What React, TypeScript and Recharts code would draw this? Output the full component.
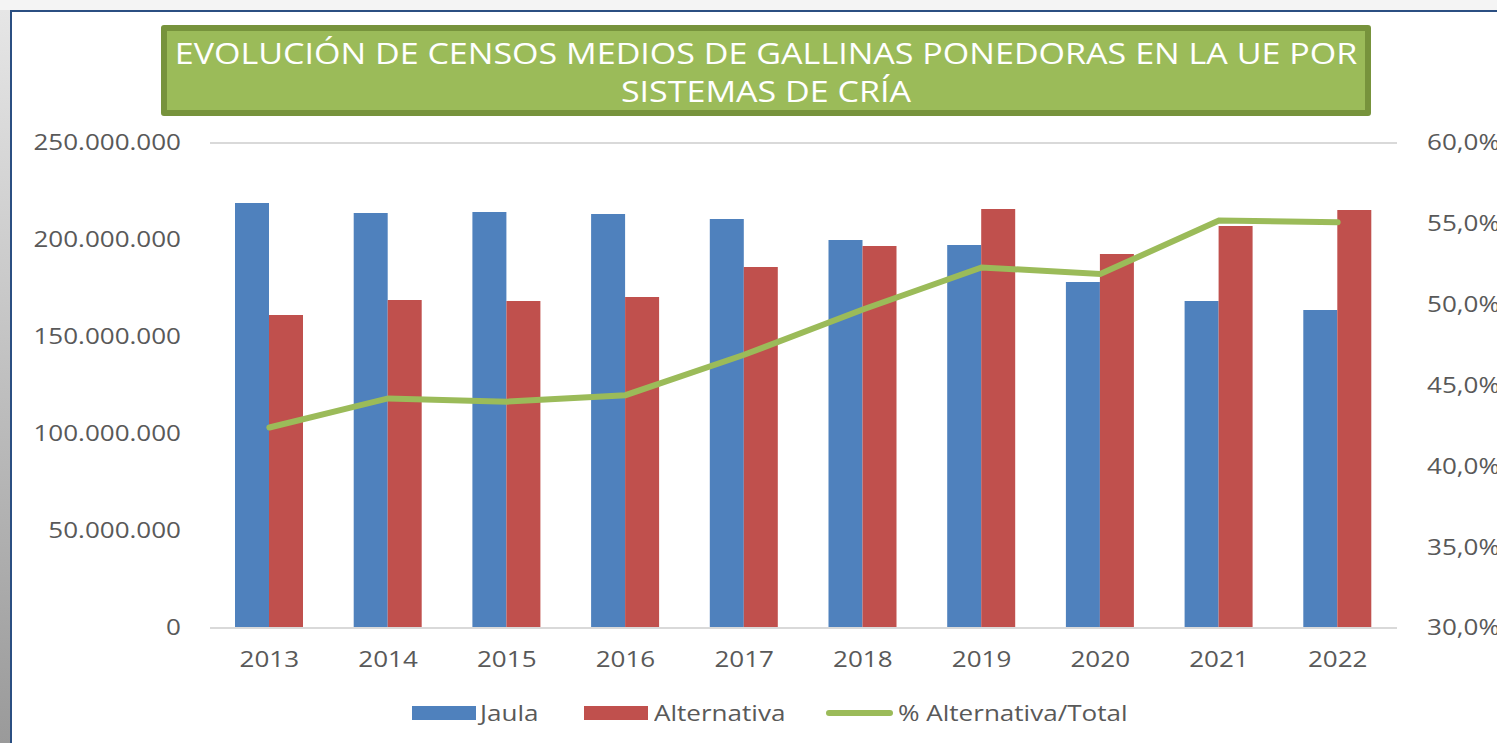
import { ComposedChart, Bar, Line, XAxis, YAxis, CartesianGrid } from 'recharts';

const years = ['2013', '2014', '2015', '2016', '2017', '2018', '2019', '2020', '2021', '2022'];
const jaula = [219.1, 213.9, 214.4, 213.4, 210.8, 200.0, 197.4, 178.4, 168.6, 163.9].map((v) => v * 1e6);
const alternativa = [161.3, 169.1, 168.6, 170.6, 186.1, 196.9, 216.0, 192.8, 207.2, 215.5].map((v) => v * 1e6);
const pctAlternativa = [42.4, 44.2, 44.0, 44.4, 46.9, 49.7, 52.3, 51.9, 55.2, 55.1];

const leftTicks = [0, 50e6, 100e6, 150e6, 200e6, 250e6];
const rightTicks = [30, 35, 40, 45, 50, 55, 60];

const data = years.map((year, i) => ({
  year,
  jaula: jaula[i],
  alternativa: alternativa[i],
  pct: pctAlternativa[i],
}));

const FONT = '"Open Sans", sans-serif';
const GRAY = '#595959';
const BLUE = '#4f81bd';
const RED = '#c0504d';
const GREEN = '#9bbb59';
const STRETCH = 1.24; // the source picture is stretched sideways

const fmtMillions = (v: number) => (v === 0 ? '0' : Math.round(v).toLocaleString('de-DE'));
const fmtPct = (v: number) => v.toFixed(1).replace('.', ',') + '%';

function StretchTick(props: any) {
  const { x, y, payload, textAnchor, fmt, dy } = props;
  const label = fmt ? fmt(payload.value) : payload.value;
  return (
    <text
      x={0}
      y={0}
      dy={dy}
      transform={`translate(${x},${y}) scale(${STRETCH},1)`}
      textAnchor={textAnchor}
      fill={GRAY}
      fontSize={21}
      fontFamily={FONT}
    >
      {label}
    </text>
  );
}

const legendText: React.CSSProperties = {
  position: 'absolute',
  top: 0,
  fontSize: 21,
  lineHeight: '28px',
  color: GRAY,
  transform: `scaleX(${STRETCH})`,
  transformOrigin: 'left center',
  whiteSpace: 'nowrap',
};

export default function App() {
  return (
    <div style={{ position: 'absolute', left: 0, top: 0, width: 1497, height: 743, overflow: 'hidden', background: '#f4f4f4', fontFamily: FONT }}>
      <div style={{ position: 'absolute', left: 0, top: 10, width: 10, height: 733, background: 'linear-gradient(#e6e6e6, #9a9a9a)' }} />
      <div style={{ position: 'absolute', left: 10, top: 10, width: 1500, height: 740, background: '#fff', borderLeft: '2px solid #2b4f82', borderTop: '2px solid #2b4f82' }} />

      <div
        style={{
          position: 'absolute', left: 161, top: 25, width: 1210, height: 91, boxSizing: 'border-box',
          background: GREEN, border: '6px solid #77933c', borderRadius: 3, color: '#fff',
          fontSize: 30, lineHeight: '38px', textAlign: 'center', paddingTop: 3,
        }}
      >
        <div style={{ transform: 'scaleX(1.135)', transformOrigin: 'center', whiteSpace: 'nowrap' }}>
          EVOLUCIÓN DE CENSOS MEDIOS DE GALLINAS PONEDORAS EN LA UE POR
          <br />
          SISTEMAS DE CRÍA
        </div>
      </div>

      <div style={{ position: 'absolute', left: 0, top: 0 }}>
        <ComposedChart
          width={1497}
          height={743}
          data={data}
          margin={{ top: 143, right: 0, bottom: 75, left: 20 }}
          barGap={0}
          barSize={34}
        >
          <CartesianGrid vertical={false} stroke="#d9d9d9" strokeWidth={2} />
          <XAxis
            dataKey="year"
            tickLine={false}
            axisLine={{ stroke: '#d9d9d9', strokeWidth: 2 }}
            tickSize={0}
            tickMargin={24}
            tick={<StretchTick dy="0.71em" />}
            height={40}
          />
          <YAxis
            yAxisId="left"
            domain={[0, 250e6]}
            ticks={leftTicks}
            axisLine={false}
            tickLine={false}
            tickSize={0}
            tickMargin={29}
            width={190}
            tick={<StretchTick fmt={fmtMillions} dy="0.35em" />}
          />
          <YAxis
            yAxisId="right"
            orientation="right"
            domain={[30, 60]}
            ticks={rightTicks}
            axisLine={false}
            tickLine={false}
            tickSize={0}
            tickMargin={30}
            width={100}
            tick={<StretchTick fmt={fmtPct} dy="0.35em" />}
          />
          <Bar yAxisId="left" dataKey="jaula" fill={BLUE} isAnimationActive={false} />
          <Bar yAxisId="left" dataKey="alternativa" fill={RED} isAnimationActive={false} />
          <Line
            yAxisId="right"
            dataKey="pct"
            stroke={GREEN}
            strokeWidth={6}
            strokeLinecap="round"
            dot={false}
            activeDot={false}
            isAnimationActive={false}
          />
        </ComposedChart>
      </div>

      {/* legend */}
      <div style={{ position: 'absolute', left: 0, top: 699, width: 1497, height: 28 }}>
        <span style={{ position: 'absolute', left: 412, top: 7, width: 64, height: 14, background: BLUE }} />
        <span style={{ ...legendText, left: 480 }}>Jaula</span>
        <span style={{ position: 'absolute', left: 584, top: 7, width: 64, height: 14, background: RED }} />
        <span style={{ ...legendText, left: 654 }}>Alternativa</span>
        <span style={{ position: 'absolute', left: 826, top: 11, width: 67, height: 6, background: GREEN, borderRadius: 3 }} />
        <span style={{ ...legendText, left: 898 }}>% Alternativa/Total</span>
      </div>
    </div>
  );
}
